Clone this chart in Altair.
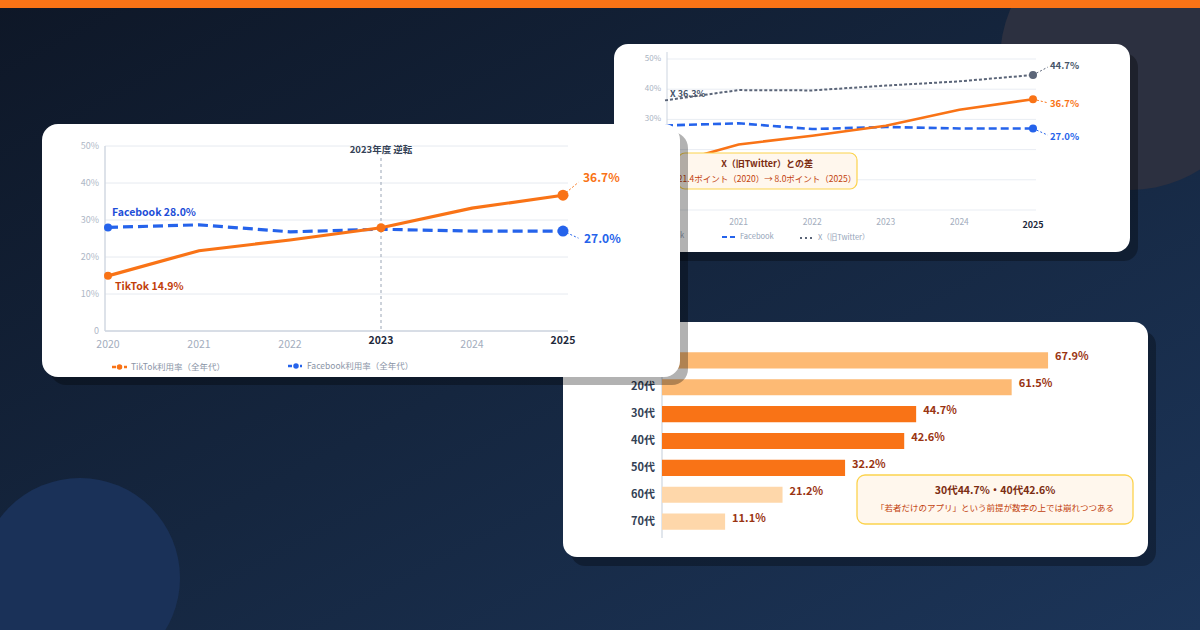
import altair as alt
import pandas as pd

# ---------------- data ----------------
years = [2020, 2021, 2022, 2023, 2024, 2025]
tiktok = [14.9, 21.7, 24.6, 27.9, 33.2, 36.7]
facebook = [28.0, 28.7, 26.8, 27.5, 27.0, 27.0]
x_twitter = [36.3, 39.7, 39.6, 41.2, 42.6, 44.7]
pct_ticks = [0, 10, 20, 30, 40, 50]
ages = ["10代", "20代", "30代", "40代", "50代", "60代", "70代"]
age_share = [67.9, 61.5, 44.7, 42.6, 32.2, 21.2, 11.1]

FONT = "Noto Sans CJK JP"
ORANGE = "#f97316"
ORANGE_D = "#c2410c"
BLUE = "#2563eb"
SLATE = "#5b6578"

series = pd.DataFrame({"year": years, "tiktok": tiktok, "facebook": facebook, "xtw": x_twitter})
ticks = pd.DataFrame({"t": pct_ticks})
bars = pd.DataFrame({"age": ages, "share": age_share})
one = pd.DataFrame({"k": [0]})


# ---------------- helpers ----------------
def rect(x1, x2, y1, y2, fill, r=0, stroke=None, sw=0, opacity=1.0):
    kw = dict(cornerRadius=r, fill=fill, opacity=opacity)
    if stroke:
        kw.update(stroke=stroke, strokeWidth=sw)
    return alt.Chart(one).mark_rect(**kw).encode(
        x=alt.value(x1), x2=alt.value(x2), y=alt.value(y1), y2=alt.value(y2))


def text(s, x, y, size=10, color="#334155", weight="normal", align="left"):
    return alt.Chart(one).mark_text(
        text=s, fontSize=size, color=color, fontWeight=weight, align=align,
        baseline="middle", font=FONT).encode(x=alt.value(x), y=alt.value(y))


def hline(x1, x2, y, color, width=1.0, dash=None):
    kw = dict(color=color, strokeWidth=width)
    if dash:
        kw["strokeDash"] = dash
    return alt.Chart(one).mark_rule(**kw).encode(
        x=alt.value(x1), x2=alt.value(x2), y=alt.value(y))


def vline(x, y1, y2, color, width=1.0, dash=None):
    kw = dict(color=color, strokeWidth=width)
    if dash:
        kw["strokeDash"] = dash
    return alt.Chart(one).mark_rule(**kw).encode(
        x=alt.value(x), y=alt.value(y1), y2=alt.value(y2))


def dot(x, y, size, color):
    return alt.Chart(one).mark_circle(size=size, color=color, opacity=1).encode(
        x=alt.value(x), y=alt.value(y))


def enc_xy(field, X, Y):
    return dict(x=alt.X("year:Q", scale=X, axis=None),
                y=alt.Y(f"{field}:Q", scale=Y, axis=None))


def line(field, X, Y, color, width, dash=None):
    kw = dict(color=color, strokeWidth=width)
    if dash:
        kw["strokeDash"] = dash
    return alt.Chart(series).mark_line(**kw).encode(**enc_xy(field, X, Y))


def points(field, X, Y, yr, size, color):
    return alt.Chart(series).transform_filter(f"datum.year == {yr}").mark_circle(
        size=size, color=color, opacity=1).encode(**enc_xy(field, X, Y))


def leader(field, X, Y, yr, dxy, dv, color):
    return alt.Chart(series).transform_filter(f"datum.year == {yr}").transform_calculate(
        x2=f"datum.year + {dxy}", v2=f"datum.{field} + {dv}").mark_rule(
        color=color, strokeWidth=1, strokeDash=[2, 2]).encode(
        x=alt.X("year:Q", scale=X, axis=None), x2="x2:Q",
        y=alt.Y(f"{field}:Q", scale=Y, axis=None), y2="v2:Q")


def vlabel(field, X, Y, yr, prefix, dx, dy, size, color, align="left"):
    return alt.Chart(series).transform_filter(f"datum.year == {yr}").transform_calculate(
        lab=f"'{prefix}' + format(datum.{field}, '.1f') + '%'").mark_text(
        dx=dx, dy=dy, fontSize=size, color=color, fontWeight="bold", align=align,
        baseline="middle", font=FONT).encode(text="lab:N", **enc_xy(field, X, Y))


layers = []

# ---------------- background ----------------
grad = alt.Gradient(gradient="linear", x1=0, y1=0, x2=1, y2=1,
                    stops=[alt.GradientStop(color="#0e1727", offset=0),
                           alt.GradientStop(color="#15263f", offset=0.5),
                           alt.GradientStop(color="#1c3559", offset=1)])
layers.append(rect(0, 1200, 0, 630, grad))
layers.append(dot(1130, 60, 260 * 260, "#2c3040"))
layers.append(dot(80, 578, 200 * 200, "#1a3158"))

# ---------------- card 2 (back, top right) ----------------
X2 = alt.Scale(domain=[2020, 2025], range=[665, 1033])
Y2 = alt.Scale(domain=[0, 50], range=[210, 59])
layers.append(rect(622, 1138, 53, 261, "black", r=14, opacity=0.3))
layers.append(rect(614, 1130, 44, 252, "white", r=14))
layers.append(alt.Chart(ticks).mark_rule(color="#e9edf3", strokeWidth=1).encode(
    y=alt.Y("t:Q", scale=Y2, axis=None), x=alt.value(667), x2=alt.value(1036)))
layers.append(vline(667, 52, 210, "#cdd5e0"))
layers.append(alt.Chart(ticks).transform_calculate(
    lab="datum.t == 0 ? '0' : datum.t + '%'").mark_text(
    align="right", fontSize=8, color="#aab3c2", font=FONT, baseline="middle").encode(
    y=alt.Y("t:Q", scale=Y2, axis=None), x=alt.value(661), text="lab:N"))
layers.append(alt.Chart(series).transform_filter("datum.year != 2025").transform_calculate(
    lab="toString(datum.year)").mark_text(
    fontSize=8.5, color="#a3adbd", font=FONT, baseline="middle").encode(
    x=alt.X("year:Q", scale=X2, axis=None), y=alt.value(222), text="lab:N"))
layers.append(alt.Chart(series).transform_filter("datum.year == 2025").transform_calculate(
    lab="toString(datum.year)").mark_text(
    fontSize=9, color="#1e293b", fontWeight="bold", font=FONT, baseline="middle").encode(
    x=alt.X("year:Q", scale=X2, axis=None), y=alt.value(225), text="lab:N"))
layers.append(line("xtw", X2, Y2, SLATE, 2, dash=[3, 2]))
layers.append(line("facebook", X2, Y2, BLUE, 2.6, dash=[8, 4]))
layers.append(line("tiktok", X2, Y2, ORANGE, 2.6))
for f, c, dv, dy in [("xtw", SLATE, 2.6, -9), ("tiktok", ORANGE, -1.2, 5), ("facebook", BLUE, -2.2, 9)]:
    layers.append(leader(f, X2, Y2, 2025, 0.2, dv, c))
    layers.append(points(f, X2, Y2, 2025, 64, c))
    layers.append(vlabel(f, X2, Y2, 2025, "", 17, dy, 9.5, c if f != "xtw" else "#475569"))
layers.append(vlabel("xtw", X2, Y2, 2020, "X ", 5, -6, 9, "#475569"))
# legend card 2
layers.append(hline(645, 657, 236, ORANGE, 2.2))
layers.append(text("TikTok", 661, 236, 7.5, "#94a3b8"))
layers.append(hline(722, 735, 237, BLUE, 2.2, dash=[5, 3]))
layers.append(text("Facebook", 740, 237, 7.5, "#94a3b8"))
layers.append(hline(800, 813, 238, SLATE, 2, dash=[2, 3]))
layers.append(text("X（旧Twitter）", 818, 238, 7.5, "#94a3b8"))
# note box card 2
layers.append(rect(678, 857, 153, 189, "#fff7ed", r=7, stroke="#fcd34d", sw=1.2))
layers.append(text("X（旧Twitter）との差", 767, 164, 9, "#7c2d12", "bold", "center"))
layers.append(text("21.4ポイント（2020）→ 8.0ポイント（2025）", 767, 179, 8.5, ORANGE_D, "normal", "center"))

# ---------------- card 3 (bottom right, bars) ----------------
XB = alt.Scale(domain=[0, 70], range=[662, 1060])
YB = alt.Scale(domain=ages, range=[347, 535], paddingInner=0.4, paddingOuter=0.2)
bar_colors = ["#fdba74", "#fdba74", ORANGE, ORANGE, ORANGE, "#fed7aa", "#fed7aa"]
layers.append(rect(571, 1156, 331, 566, "black", r=14, opacity=0.3))
layers.append(rect(563, 1148, 322, 557, "white", r=14))
layers.append(vline(662, 345, 538, "#cdd5e0", 1.2))
layers.append(alt.Chart(bars).mark_bar().encode(
    x=alt.X("share:Q", scale=XB, axis=None),
    y=alt.Y("age:N", scale=YB, axis=None),
    color=alt.Color("age:N", scale=alt.Scale(domain=ages, range=bar_colors), legend=None)))
layers.append(alt.Chart(bars).mark_text(
    align="right", fontSize=11, fontWeight="bold", color="#334155", font=FONT,
    baseline="middle").encode(
    y=alt.Y("age:N", scale=YB, axis=None), x=alt.value(655), text="age:N"))
layers.append(alt.Chart(bars).transform_calculate(
    lab="format(datum.share, '.1f') + '%'").mark_text(
    align="left", dx=7, dy=-3, fontSize=11, fontWeight="bold", color="#9a3412", font=FONT,
    baseline="middle").encode(
    x=alt.X("share:Q", scale=XB, axis=None),
    y=alt.Y("age:N", scale=YB, axis=None), text="lab:N"))
layers.append(rect(857, 1133, 475, 524, "#fff7ed", r=8, stroke="#fcd34d", sw=1.3))
layers.append(text("30代44.7%・40代42.6%", 995, 491, 10.5, "#7c2d12", "bold", "center"))
layers.append(text("「若者だけのアプリ」という前提が数字の上では崩れつつある", 995, 508, 8.5, ORANGE_D, "normal", "center"))

# ---------------- card 1 (front, left) ----------------
X1 = alt.Scale(domain=[2020, 2025], range=[108, 563])
Y1 = alt.Scale(domain=[0, 50], range=[331, 146])
layers.append(rect(50, 688, 132, 385, "black", r=16, opacity=0.3))
layers.append(rect(42, 680, 124, 377, "white", r=16))
layers.append(alt.Chart(ticks).mark_rule(color="#e6eaf0", strokeWidth=1).encode(
    y=alt.Y("t:Q", scale=Y1, axis=None), x=alt.value(105), x2=alt.value(568)))
layers.append(hline(105, 568, 331, "#cfd6e0", 1.4))
layers.append(vline(105, 146, 331, "#cfd6e0", 1.4))
layers.append(alt.Chart(ticks).transform_calculate(
    lab="datum.t == 0 ? '0' : datum.t + '%'").mark_text(
    align="right", fontSize=9, color="#aeb7c6", font=FONT, baseline="middle").encode(
    y=alt.Y("t:Q", scale=Y1, axis=None), x=alt.value(99), text="lab:N"))
layers.append(alt.Chart(series).transform_filter(
    "datum.year != 2023 && datum.year != 2025").transform_calculate(
    lab="toString(datum.year)").mark_text(
    fontSize=10.5, color="#a3adbd", font=FONT, baseline="middle").encode(
    x=alt.X("year:Q", scale=X1, axis=None), y=alt.value(345), text="lab:N"))
layers.append(alt.Chart(series).transform_filter(
    "datum.year == 2023 || datum.year == 2025").transform_calculate(
    lab="toString(datum.year)").mark_text(
    fontSize=10.5, color="#1e293b", fontWeight="bold", font=FONT, baseline="middle").encode(
    x=alt.X("year:Q", scale=X1, axis=None), y=alt.value(341), text="lab:N"))
# 2023 marker
layers.append(alt.Chart(series).transform_filter("datum.year == 2023").mark_rule(
    color="#9aa5b5", strokeWidth=1, strokeDash=[3, 3]).encode(
    x=alt.X("year:Q", scale=X1, axis=None), y=alt.value(158), y2=alt.value(331)))
layers.append(alt.Chart(series).transform_filter("datum.year == 2023").mark_text(
    text="2023年度 逆転", fontSize=9.5, fontWeight="bold", color="#334155", font=FONT,
    baseline="middle").encode(
    x=alt.X("year:Q", scale=X1, axis=None), y=alt.value(150)))
layers.append(line("facebook", X1, Y1, BLUE, 3.2, dash=[10, 5]))
layers.append(line("tiktok", X1, Y1, ORANGE, 3.2))
layers.append(points("facebook", X1, Y1, 2020, 64, BLUE))
layers.append(points("tiktok", X1, Y1, 2020, 64, ORANGE))
layers.append(points("tiktok", X1, Y1, 2023, 81, ORANGE))
layers.append(leader("tiktok", X1, Y1, 2025, 0.17, 3.5, ORANGE))
layers.append(leader("facebook", X1, Y1, 2025, 0.17, -1.9, BLUE))
layers.append(points("tiktok", X1, Y1, 2025, 121, ORANGE))
layers.append(points("facebook", X1, Y1, 2025, 121, BLUE))
layers.append(vlabel("tiktok", X1, Y1, 2025, "", 20, -17, 12, ORANGE))
layers.append(vlabel("facebook", X1, Y1, 2025, "", 21, 8, 12, BLUE))
layers.append(vlabel("facebook", X1, Y1, 2020, "Facebook ", 4, -14, 10.5, "#1d4ed8"))
layers.append(vlabel("tiktok", X1, Y1, 2020, "TikTok ", 7, 11, 10.5, ORANGE_D))
# legend card 1
layers.append(hline(112, 127, 367, ORANGE, 2.5, dash=[4, 2]))
layers.append(dot(119.5, 367, 30, ORANGE))
layers.append(text("TikTok利用率（全年代）", 131, 367, 8.5, "#8a94a6"))
layers.append(hline(288, 302, 366, BLUE, 2.5, dash=[4, 2]))
layers.append(dot(296, 366, 30, BLUE))
layers.append(text("Facebook利用率（全年代）", 307, 366, 8.5, "#8a94a6"))

# ---------------- top accent bar ----------------
layers.append(rect(0, 1200, 0, 8, ORANGE))

chart = alt.layer(*layers).resolve_scale(
    x="independent", y="independent", color="independent"
).properties(
    width=1200, height=630, padding=0,
    autosize=alt.AutoSizeParams(type="none"),
    background="#0f1a2b",
).configure_view(stroke=None)

chart.save("out.html", embed_options={"renderer": "svg", "actions": False})
